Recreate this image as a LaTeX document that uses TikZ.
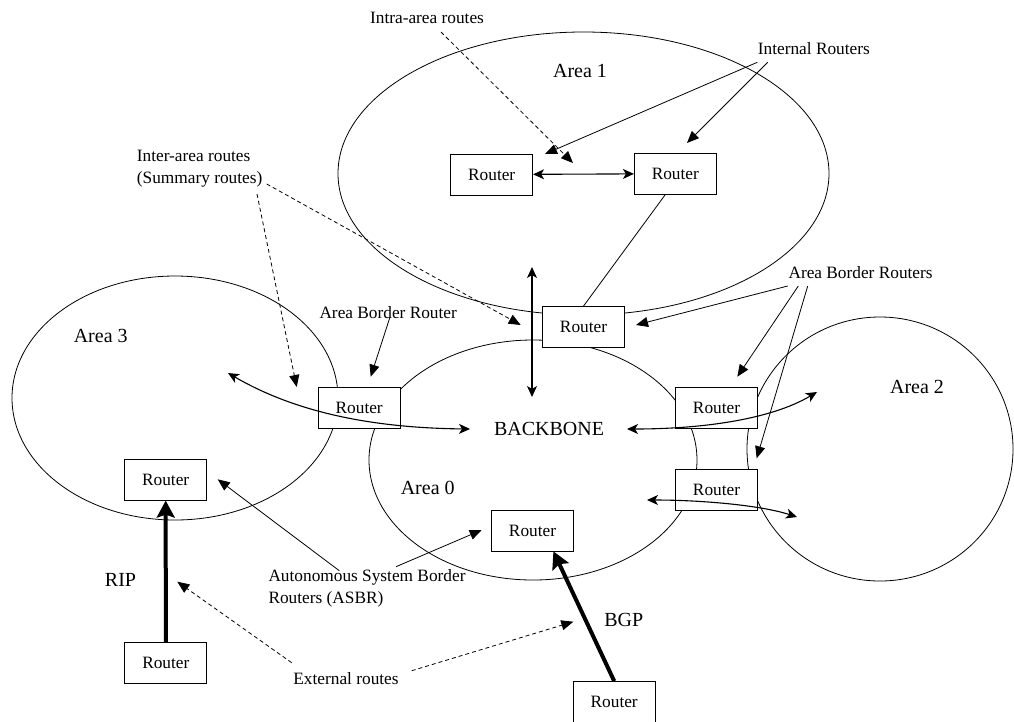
\documentclass[tikz,border=0pt]{standalone}
\usepackage{fontspec}
\setmainfont{Liberation Serif}
\usetikzlibrary{arrows.meta,calc}

\tikzset{
  area/.style={draw, line width=0.8pt},
  router/.style={draw, fill=white, line width=0.8pt, minimum width=82pt,
    minimum height=41pt, inner sep=0pt, font=\fontsize{17.3}{20}\selectfont},
  lbl/.style={inner sep=0pt, font=\fontsize{17.3}{21.5}\selectfont, align=left},
  big/.style={inner sep=0pt, font=\fontsize{20}{24}\selectfont},
  pointer/.style={line width=0.8pt, -{Triangle[length=12pt,width=10pt]}},
  dpointer/.style={pointer, dash pattern=on 4pt off 3pt},
  flow/.style={line width=1.1pt,
    {Stealth[length=11pt,width=10pt,inset=3pt]}-{Stealth[length=11pt,width=10pt,inset=3pt]}},
  heavy/.style={line width=4pt, -{Stealth[length=17pt,width=18pt,inset=3pt]}},
}

\begin{document}
\begin{tikzpicture}[x=1pt,y=-1pt]
\useasboundingbox (0,0) rectangle (1014,721);

% OSPF areas
\draw[area] (583.5,173.5) ellipse [x radius=245.5pt, y radius=141.5pt];
\draw[area] (175,398) ellipse [x radius=163pt, y radius=122pt];
\draw[area] (533,460) ellipse [x radius=164pt, y radius=120pt];
\draw[area] (880,449) ellipse [x radius=133pt, y radius=132pt];

% routers
\node[router] (r1a)     at (491.7,174.5) {Router};
\node[router] (r1b)     at (675.3,173.7) {Router};
\node[router] (abrTop)  at (583.5,327)   {Router};
\node[router] (abrLeft) at (359.2,408.3) {Router};
\node[router] (abrR1)   at (716.5,408.3) {Router};
\node[router] (abrR2)   at (716.5,489.7) {Router};
\node[router] (asbr3)   at (165.7,479.7) {Router};
\node[router] (asbr0)   at (532.5,530.5) {Router};
\node[router] (ext3)    at (165.8,662.8) {Router};
\node[router] (extB)    at (614.2,702)   {Router};

% area and backbone texts
\node[big] (a1)  at (580,71)      {Area 1};
\node[big] (a3)  at (100.7,336)   {Area 3};
\node[big] (a0)  at (427.7,488)   {Area 0};
\node[big] (a2)  at (917,386.7)   {Area 2};
\node[big] (bb)  at (549,429.3)   {BACKBONE};
\node[big] (rip) at (120.5,580)   {RIP};
\node[big] (bgp) at (623.7,620)   {BGP};

% callout texts
\node[lbl] (intra) at (427,18) {Intra-area routes};
\node[lbl, anchor=west] (internal) at (757.7,49) {Internal Routers};
\node[lbl, anchor=west] (abrs) at (788.3,272.7) {Area Border Routers};
\node[lbl, anchor=west] (inter) at (136.7,168.5) {Inter-area routes\\(Summary routes)};
\node[lbl, anchor=west] (abr1) at (319.3,313) {Area Border Router};
\node[lbl, anchor=west] (asbr) at (268.3,588.5) {Autonomous System Border\\Routers (ASBR)};
\node[lbl] (ext) at (346,679) {External routes};

% callout ends
\coordinate (irS1) at (757.3,62.3);  \coordinate (irE1) at (545,154);
\coordinate (irS2) at (767.7,62.3);  \coordinate (irE2) at (687,143);
\coordinate (inS)  at (441,32);      \coordinate (inE)  at (573,163);
\coordinate (ieS1) at (266.7,184);   \coordinate (ieE1) at (520.7,325);
\coordinate (ieS2) at (257,194);     \coordinate (ieE2) at (296.7,387);
\coordinate (abS)  at (390,317);     \coordinate (abE)  at (370.7,376.7);
\coordinate (absS1) at (787.7,286);  \coordinate (absE1) at (636,325);
\coordinate (absS2) at (798.3,286);  \coordinate (absE2) at (737.3,376.7);
\coordinate (absS3) at (807.7,286);  \coordinate (absE3) at (756.7,458.3);
\coordinate (asS1) at (339.3,570.7); \coordinate (asE1) at (217.7,479.3);
\coordinate (asS2) at (396,566.7);   \coordinate (asE2) at (481.7,530);
\coordinate (exS1) at (291.7,662.7); \coordinate (exE1) at (177.3,581.7);
\coordinate (exS2) at (411.7,670.7); \coordinate (exE2) at (573.3,621.7);

% route flows
\coordinate (vTop) at (532,267);     \coordinate (vBot) at (532,397);
\coordinate (w3)   at (228,373);     \coordinate (wBB)  at (470,429);
\coordinate (eBB)  at (627,429);     \coordinate (e2)   at (817,392);
\coordinate (sBB)  at (647,500);     \coordinate (s2)   at (797,517);

\draw[flow] (r1a) -- (r1b);
\draw[line width=0.8pt] ($(r1b.south)+(-10,0)$) -- (abrTop.north);
\draw[flow] (vTop) -- (vBot);
\draw[flow] (w3) .. controls (300,415) and (380,428) .. (wBB);
\draw[flow] (eBB) .. controls (700,429) and (770,420) .. (e2);
\draw[flow] (sBB) .. controls (700,500) and (760,505) .. (s2);

% callout arrows
\draw[pointer]  (irS1) -- (irE1);
\draw[pointer]  (irS2) -- (irE2);
\draw[dpointer] (inS) -- (inE);
\draw[dpointer] (ieS1) -- (ieE1);
\draw[dpointer] (ieS2) -- (ieE2);
\draw[pointer]  (abS) -- (abE);
\draw[pointer]  (absS1) -- (absE1);
\draw[pointer]  (absS2) -- (absE2);
\draw[pointer]  (absS3) -- (absE3);
\draw[pointer]  (asS1) -- (asE1);
\draw[pointer]  (asS2) -- (asE2);
\draw[dpointer] (exS1) -- (exE1);
\draw[dpointer] (exS2) -- (exE2);

% external protocols
\draw[heavy] (ext3.north) -- (asbr3.south);
\draw[heavy] (extB.north) -- (asbr0.-45);
\end{tikzpicture}
\end{document}
